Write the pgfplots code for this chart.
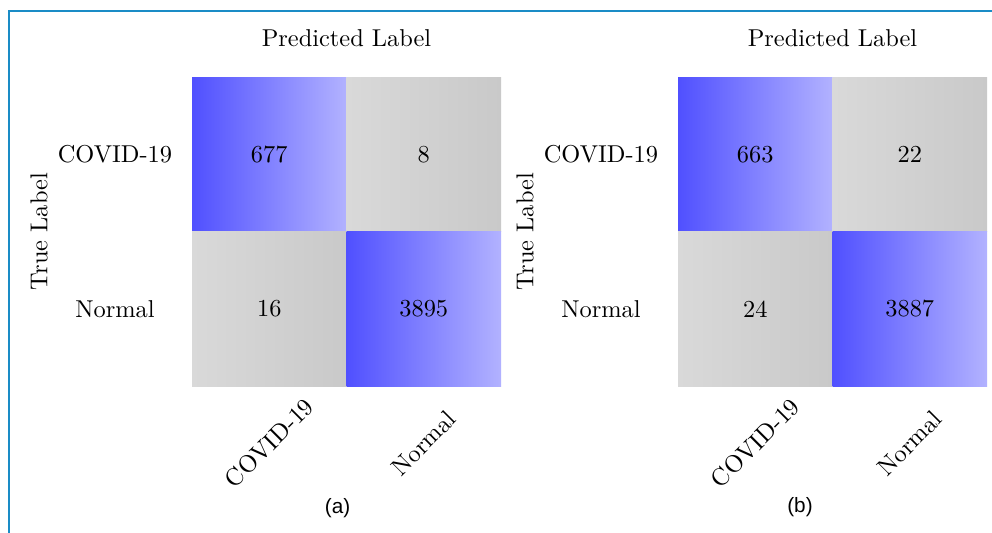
\documentclass[border=0pt]{standalone}
\usepackage{fontspec}
\newfontfamily\capfont{Liberation Sans}
\usepackage{pgfplots}
\pgfplotsset{compat=1.18}
\definecolor{cbL}{RGB}{80,80,255}
\definecolor{cbR}{RGB}{178,178,255}
\definecolor{cgL}{RGB}{217,217,217}
\definecolor{cgR}{RGB}{201,201,201}
\definecolor{frame}{RGB}{26,140,198}
\pgfplotsset{
  cm/.style={
    anchor=center, width=126.69pt, height=126.69pt, scale only axis,
    xmin=0, xmax=2, ymin=0, ymax=2, y dir=reverse,
    axis line style={draw=none}, major tick length=0pt, tick style={draw=none},
    xtick={0.5,1.5}, ytick={0.5,1.5},
    xticklabels={COVID-19,Normal}, yticklabels={COVID-19,Normal},
    xticklabel style={yshift=-23.4pt, rotate=45, anchor=center},
    yticklabel style={xshift=-31.6pt, anchor=center},
    every axis title/.style={at={(axis description cs:0.5,1)}, anchor=center, yshift=15.8pt},
    every axis y label/.style={at={(axis description cs:-0.495,0.5)}, rotate=90, anchor=center},
    title={Predicted Label}, ylabel={True Label},
  },
  vals/.style={draw=none, mark=none, nodes near coords, point meta=explicit symbolic,
    nodes near coords align={center}},
}
\begin{document}
\begin{tikzpicture}
\useasboundingbox (0,0) rectangle (406.72pt,218.12pt);
\draw[frame, line width=0.82pt] (3.69pt,-1pt) -- (3.69pt,213.61pt) -- (408pt,213.61pt);
% (a)
\begin{axis}[cm, at={(142.07pt,123.2pt)}]
\addplot[draw=none, left color=cbL, right color=cbR] coordinates {(0,0) (1,0) (1,1) (0,1)} -- cycle;
\addplot[draw=none, left color=cgL, right color=cgR] coordinates {(1,0) (2,0) (2,1) (1,1)} -- cycle;
\addplot[draw=none, left color=cgL, right color=cgR] coordinates {(0,1) (1,1) (1,2) (0,2)} -- cycle;
\addplot[draw=none, left color=cbL, right color=cbR] coordinates {(1,1) (2,1) (2,2) (1,2)} -- cycle;
\addplot[vals] table[meta=v] {
x y v
0.5 0.5 677
1.5 0.5 8
0.5 1.5 16
1.5 1.5 3895
};
\end{axis}
% (b)
\begin{axis}[cm, at={(341.33pt,123.2pt)}]
\addplot[draw=none, left color=cbL, right color=cbR] coordinates {(0,0) (1,0) (1,1) (0,1)} -- cycle;
\addplot[draw=none, left color=cgL, right color=cgR] coordinates {(1,0) (2,0) (2,1) (1,1)} -- cycle;
\addplot[draw=none, left color=cgL, right color=cgR] coordinates {(0,1) (1,1) (1,2) (0,2)} -- cycle;
\addplot[draw=none, left color=cbL, right color=cbR] coordinates {(1,1) (2,1) (2,2) (1,2)} -- cycle;
\addplot[vals] table[meta=v] {
x y v
0.5 0.5 663
1.5 0.5 22
0.5 1.5 24
1.5 1.5 3887
};
\end{axis}
\node[font=\capfont\fontsize{8.5}{10}\selectfont] at (138.4pt,9.84pt) {(a)};
\node[font=\capfont\fontsize{8.5}{10}\selectfont] at (328pt,10.05pt) {(b)};
\end{tikzpicture}
\end{document}
